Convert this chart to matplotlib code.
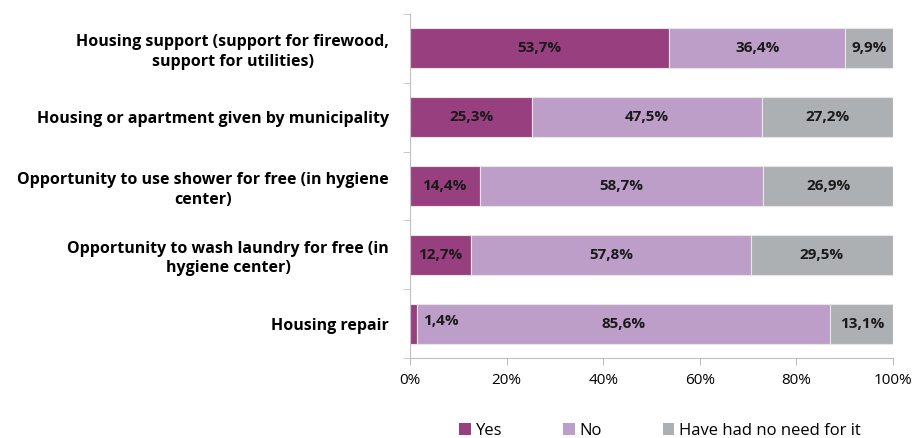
import matplotlib
matplotlib.use("Agg")
import matplotlib.pyplot as plt
from matplotlib.patches import Patch
import numpy as np

plt.rcParams['font.family'] = ['Open Sans', 'DejaVu Sans']

categories = [
    "Housing support (support for firewood,\nsupport for utilities)",
    "Housing or apartment given by municipality",
    "Opportunity to use shower for free (in hygiene\ncenter)",
    "Opportunity to wash laundry for free (in\nhygiene center)",
    "Housing repair",
]
yes = [53.7, 25.3, 14.4, 12.7, 1.4]
no = [36.4, 47.5, 58.7, 57.8, 85.6]
no_need = [9.9, 27.2, 26.9, 29.5, 13.1]
series_names = ["Yes", "No", "Have had no need for it"]
colors = ["#983f80", "#bd9ec8", "#adb0b2"]
xticks = [0, 20, 40, 60, 80, 100]

fig = plt.figure(figsize=(9.14, 4.38), dpi=100)
ax = fig.add_axes([410/914, 1-358/438, (893-410)/914, (358-14)/438])

n = len(categories)
y = np.arange(n)[::-1]
left = np.zeros(n)
for vals, c, name in zip([yes, no, no_need], colors, series_names):
    vals = np.array(vals)
    ax.barh(y, vals, left=left, height=0.58, color=c, edgecolor="#e6e6e6", linewidth=0.8, label=name)
    for yi, l, v in zip(y, left, vals):
        txt = f"{v:.1f}%".replace(".", ",")
        if v < 5:
            ax.text(l + v + 1.3, yi + 0.04, txt, ha="left", va="center", fontsize=11, fontweight="bold", color="#1a1a1a")
        else:
            ax.text(l + v / 2, yi, txt, ha="center", va="center", fontsize=11, fontweight="bold", color="#1a1a1a")
    left = left + vals

ax.set_xlim(0, 100)
ax.set_ylim(-0.5, n - 0.5)
ax.set_xticks(xticks)
ax.set_xticklabels([f"{t}%" for t in xticks], fontsize=11)
ax.set_yticks(y)
ax.set_yticklabels(categories, fontsize=11.5, fontweight="bold", ha="right", multialignment="center",
                   linespacing=1.3)
ax.set_yticks(np.arange(n + 1) - 0.5, minor=True)
ax.tick_params(axis="y", which="major", length=0, pad=15)
ax.tick_params(axis="y", which="minor", length=5, color="#bfbfbf")
ax.tick_params(axis="x", which="major", length=5, color="#bfbfbf", pad=6)

for s in ["top", "right"]:
    ax.spines[s].set_visible(False)
ax.spines["left"].set_color("#bfbfbf")
ax.spines["bottom"].set_color("#bfbfbf")

handles = [Patch(facecolor=c, label=s) for c, s in zip(colors, series_names)]
fig.legend(handles=handles, loc="center", bbox_to_anchor=(660/914, 1-431/438), ncol=3,
           frameon=False, fontsize=12, handlelength=0.7, handleheight=0.7, handletextpad=0.3,
           columnspacing=3.65)

fig.savefig("out.png", dpi=100)
